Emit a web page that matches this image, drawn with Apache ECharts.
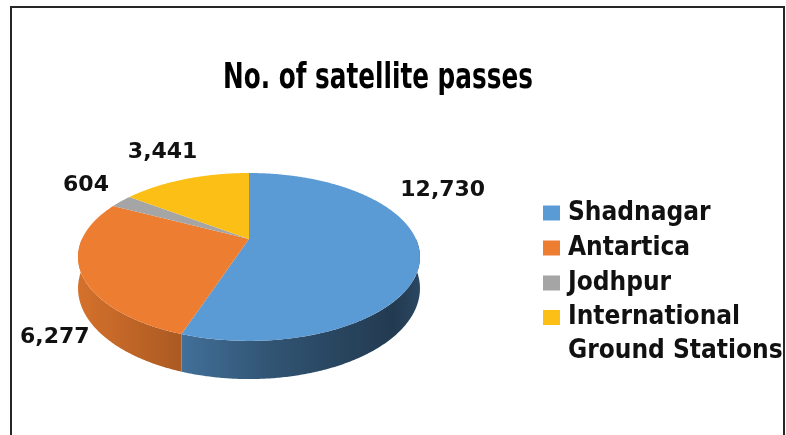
<!DOCTYPE html>
<html>
<head>
<meta charset="utf-8">
<script src="https://cdn.jsdelivr.net/npm/echarts@6/dist/echarts.min.js"></script>
<style>
  html, body { margin: 0; padding: 0; background: #ffffff; }
  #chart { width: 786px; height: 435px; }
</style>
</head>
<body>
<div id="chart"></div>
<script>
// Satellite passes per ground station
const categories = ['Shadnagar', 'Antartica', 'Jodhpur', 'International Ground Stations'];
const legendLabels = ['Shadnagar', 'Antartica', 'Jodhpur', 'International\nGround Stations'];
const passes = [12730, 6277, 604, 3441];
const sliceColors = ['#5B9BD5', '#ED7D31', '#A5A5A5', '#FBBF16'];
const chartTitle = 'No. of satellite passes';

// Tilted disc seen in perspective: centre, radii, perspective factor, wall depth
const disc = { cx: 249, cy: 239, rx: 167, ry: 80.1, k: 0.214, depth: 30 };
// Value label nudges from the rim point at each slice's mid angle
const labelOffsets = [[23, -62], [-26, 65], [-35, -16], [-23, -27]];

const total = passes.reduce((s, v) => s + v, 0);

function project(deg, drop) {
  const a = deg * Math.PI / 180;
  const u = Math.cos(a), v = Math.sin(a);
  const w = 1 - disc.k * v;
  return [disc.cx + disc.rx * u / w, disc.cy + disc.ry * v / w + drop / w];
}

function arcPoints(a0, a1, drop) {
  const pts = [];
  const n = Math.max(2, Math.ceil((a1 - a0) / 0.5));
  for (let i = 0; i <= n; i++) pts.push(project(a0 + (a1 - a0) * i / n, drop));
  return pts;
}

function shade(hex, f) {
  const n = parseInt(hex.slice(1), 16);
  const r = Math.round(((n >> 16) & 255) * f);
  const g = Math.round(((n >> 8) & 255) * f);
  const b = Math.round((n & 255) * f);
  return 'rgb(' + r + ',' + g + ',' + b + ')';
}

// Side wall lit from the left, darkening towards the right
function wallFill(color) {
  const x0 = disc.cx - disc.rx * 1.03, x1 = disc.cx + disc.rx * 1.03;
  const prof = [[0, 0.9], [0.3, 0.72], [0.55, 0.55], [0.75, 0.45], [0.92, 0.38], [1, 0.46]];
  return new echarts.graphic.LinearGradient(x0, 0, x1, 0,
    prof.map(p => ({ offset: p[0], color: shade(color, p[1]) })), true);
}

function makeRenderer(idx) {
  return function (params, api) {
    const value = api.value(0);
    const before = passes.slice(0, idx).reduce((s, v) => s + v, 0);
    const a0 = -90 + before / total * 360;
    const a1 = a0 + value / total * 360;
    const color = sliceColors[idx];
    const children = [];

    // front wall (only the half facing the viewer)
    const w0 = Math.max(a0, 0), w1 = Math.min(a1, 180);
    if (w1 > w0) {
      const topEdge = arcPoints(w0, w1, 0);
      const bottomEdge = arcPoints(w0, w1, disc.depth).reverse();
      children.push({
        type: 'polygon',
        shape: { points: topEdge.concat(bottomEdge) },
        style: { fill: wallFill(color), stroke: null }
      });
    }

    // top face
    const face = [[disc.cx, disc.cy]].concat(arcPoints(a0, a1, 0));
    children.push({
      type: 'polygon',
      shape: { points: face },
      style: { fill: color, stroke: null }
    });

    // value label
    const mid = (a0 + a1) / 2;
    const p = project(mid, 0);
    children.push({
      type: 'text',
      x: p[0] + labelOffsets[idx][0],
      y: p[1] + labelOffsets[idx][1],
      style: {
        text: value.toLocaleString('en-US'),
        fontFamily: "'DejaVu Sans', sans-serif",
        fontWeight: 'bold',
        fontSize: 22,
        fill: '#111111',
        align: 'center',
        verticalAlign: 'middle'
      }
    });
    return { type: 'group', children: children };
  };
}

const chart = echarts.init(document.getElementById('chart'), null, { renderer: 'canvas' });

const legendText = {
  fontFamily: "'DejaVu Sans Condensed', 'DejaVu Sans', sans-serif",
  fontWeight: 'bold',
  fontSize: 26,
  color: '#111111',
  padding: [0, 0, 0, 3]
};
const legendFormatter = name => legendLabels[categories.indexOf(name)];

chart.setOption({
  animation: false,
  color: sliceColors,
  legend: [{
    // single-line entries
    orient: 'vertical',
    left: 543,
    top: 198,
    padding: 0,
    itemGap: 5,
    itemWidth: 17,
    itemHeight: 15,
    icon: 'rect',
    textStyle: Object.assign({ lineHeight: 30 }, legendText),
    data: categories.slice(0, 3),
    formatter: legendFormatter
  }, {
    // two-line entry: square marker sits beside the first line
    orient: 'vertical',
    left: 543,
    top: 300.5,
    padding: 0,
    itemWidth: 17,
    itemHeight: 49,
    textStyle: Object.assign({ lineHeight: 34 }, legendText),
    data: [{ name: categories[3], icon: 'path://M0,0L17,0L17,15L0,15Z M0,49L0.01,49' }],
    formatter: legendFormatter
  }],
  graphic: [{
    type: 'polyline',
    silent: true,
    shape: { points: [[11, 440], [11, 7], [784, 7], [784, 440]] },
    style: { stroke: '#262626', lineWidth: 2, fill: null }
  }, {
    type: 'text',
    silent: true,
    x: 378,
    y: 60.5,
    scaleX: 0.763,
    style: {
      text: chartTitle,
      fontFamily: "'DejaVu Sans Condensed', 'DejaVu Sans', sans-serif",
      fontWeight: 'bold',
      fontSize: 36,
      fill: '#000000',
      align: 'center',
      verticalAlign: 'top'
    }
  }],
  series: categories.map((name, i) => ({
    type: 'custom',
    name: name,
    coordinateSystem: 'none',
    data: [passes[i]],
    renderItem: makeRenderer(i)
  }))
});
</script>
</body>
</html>
